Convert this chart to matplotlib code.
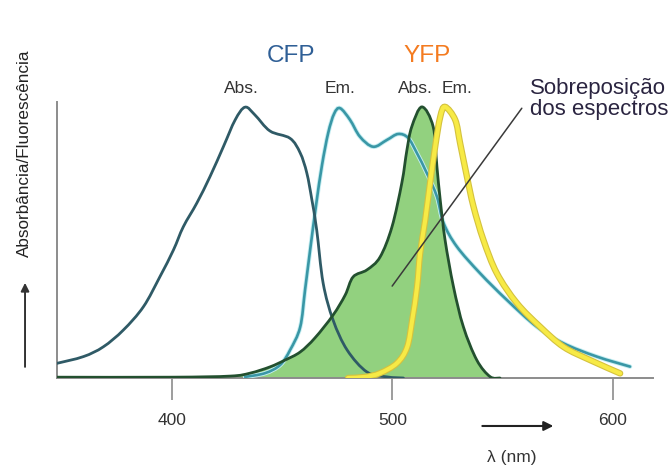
import matplotlib
matplotlib.use("Agg")
import numpy as np
import matplotlib.pyplot as plt
import matplotlib.patheffects as pe
from matplotlib.path import Path
from matplotlib.patches import PathPatch

# spectra, wavelength in nm and normalised intensity
cfp_abs_nm = [347.8, 359.9, 368.9, 378.0, 387.1, 394.6, 400.7, 405.2, 411.3, 417.3, 423.4, 428.7,
              433.2, 437.7, 444.5, 453.6, 458.2, 461.2, 463.5, 465.7, 468.6, 473.1, 479.5, 488.5,
              497.6, 505.0]
cfp_abs_val = [0.054, 0.079, 0.115, 0.177, 0.263, 0.374, 0.472, 0.558, 0.645, 0.743, 0.854, 0.952,
               0.999, 0.970, 0.911, 0.884, 0.830, 0.756, 0.657, 0.545, 0.350, 0.214, 0.103, 0.022,
               0.004, 0.0]

cfp_em_nm = [433.2, 442.3, 449.1, 453.6, 458.2, 460.4, 462.7, 465.4, 468.1, 470.9, 473.6, 476.3,
             480.8, 485.3, 491.3, 497.5, 502.6, 507.1, 511.1, 515.6, 520.2, 523.2, 529.2, 539.8,
             551.9, 565.5, 577.6, 592.7, 607.8]
cfp_em_val = [0.004, 0.018, 0.048, 0.103, 0.188, 0.325, 0.472, 0.638, 0.786, 0.904, 0.975, 0.995,
              0.952, 0.890, 0.853, 0.878, 0.900, 0.886, 0.830, 0.756, 0.669, 0.572, 0.485, 0.386,
              0.288, 0.189, 0.128, 0.079, 0.042]

yfp_abs_nm = [347.8, 400.0, 426.4, 435.5, 444.5, 451.3, 458.2, 464.9, 473.1, 478.6, 482.2, 488.5,
              494.4, 499.8, 504.3, 506.6, 508.8, 513.4, 518.5, 520.2, 521.7, 523.9, 527.7, 532.2,
              538.3, 544.3, 548.8]
yfp_abs_val = [0.003, 0.003, 0.007, 0.018, 0.041, 0.066, 0.096, 0.148, 0.232, 0.306, 0.373, 0.399,
               0.446, 0.557, 0.720, 0.841, 0.927, 1.0, 0.927, 0.780, 0.657, 0.509, 0.337, 0.189,
               0.066, 0.005, 0.0]

yfp_em_nm = [479.9, 487.6, 494.4, 502.1, 506.7, 509.0, 511.2, 512.6, 514.9, 517.1, 519.4, 521.7,
             523.9, 528.5, 530.7, 533.8, 536.8, 541.3, 547.4, 556.5, 567.0, 577.6, 589.7, 603.3]
yfp_em_val = [0.0, 0.004, 0.018, 0.055, 0.114, 0.214, 0.336, 0.461, 0.583, 0.720, 0.853, 0.963,
              1.0, 0.952, 0.867, 0.743, 0.632, 0.509, 0.386, 0.276, 0.189, 0.115, 0.066, 0.017]

xticks = [400, 500, 600]

FONT = "Liberation Sans"


def smooth_path(xs, ys, close=False):
    # Catmull-Rom through the given points, written as cubic Bezier segments
    p = np.column_stack([xs, ys]).astype(float)
    verts = [p[0]]
    codes = [Path.MOVETO]
    n = len(p)
    for i in range(n - 1):
        p0 = p[max(i - 1, 0)]
        p1, p2 = p[i], p[i + 1]
        p3 = p[min(i + 2, n - 1)]
        verts += [p1 + (p2 - p0) / 6.0, p2 - (p3 - p1) / 6.0, p2]
        codes += [Path.CURVE4] * 3
    if close:
        verts += [[p[-1, 0], 0.0], [p[0, 0], 0.0], p[0]]
        codes += [Path.LINETO, Path.LINETO, Path.CLOSEPOLY]
    return Path(verts, codes)


fig = plt.figure(figsize=(6.72, 4.70), dpi=100)
ax = fig.add_axes([57 / 672, 92 / 470, 596 / 672, 276 / 470])
ax.set_xlim(347.9, 618.2)
ax.set_ylim(0, 1.018)

ax.add_patch(PathPatch(smooth_path(yfp_abs_nm, yfp_abs_val, close=True),
                       facecolor="#92d17f", lw=0, zorder=1))

halo = [pe.Stroke(linewidth=3.2, foreground="#c4eef2"), pe.Normal()]
ax.add_patch(PathPatch(smooth_path(cfp_em_nm, cfp_em_val), fill=False, edgecolor="#3a97a6",
                       lw=1.9, capstyle="round", path_effects=halo, zorder=3))
ax.add_patch(PathPatch(smooth_path(cfp_abs_nm, cfp_abs_val), fill=False, edgecolor="#2f5a66",
                       lw=2.0, capstyle="round", zorder=3))
ax.add_patch(PathPatch(smooth_path(yfp_abs_nm, yfp_abs_val), fill=False, edgecolor="#23502f",
                       lw=2.0, capstyle="round", zorder=4))
edge = [pe.Stroke(linewidth=4.6, foreground="#d4c23e"), pe.Normal()]
ax.add_patch(PathPatch(smooth_path(yfp_em_nm, yfp_em_val), fill=False, edgecolor="#f7ea45",
                       lw=3.0, capstyle="round", path_effects=edge, zorder=5))

# pointer from the overlap region to its label
ax.annotate("", xy=(499.9, 0.339), xytext=(558.7, 0.995),
            arrowprops=dict(arrowstyle="-", color="#3a3a3a", lw=1.1, shrinkA=0, shrinkB=0),
            zorder=6)
ax.text(562.5, 1.03, "Sobreposição\ndos espectros", fontsize=16, family=FONT,
        color="#2a2440", ha="left", va="center", linespacing=1.0, clip_on=False)

ax.text(454.1, 1.188, "CFP", fontsize=17.5, family=FONT, color="#2f5f96",
        ha="center", va="center", clip_on=False)
ax.text(515.8, 1.188, "YFP", fontsize=17.5, family=FONT, color="#f47b20",
        ha="center", va="center", clip_on=False)
for xpos, lab in [(431.4, "Abs."), (476.3, "Em."), (510.3, "Abs."), (529.4, "Em.")]:
    ax.text(xpos, 1.066, lab, fontsize=12.5, family=FONT, color="#333333",
            ha="center", va="center", clip_on=False)

for side in ["top", "right"]:
    ax.spines[side].set_visible(False)
for side in ["left", "bottom"]:
    ax.spines[side].set_color("#8c8c8c")
    ax.spines[side].set_linewidth(1.4)

ax.set_yticks([])
ax.set_xticks(xticks)
ax.set_xticklabels([str(t) for t in xticks], family=FONT, fontsize=12.5, color="#333333")
ax.tick_params(axis="x", direction="out", length=16, width=1.2, color="#8c8c8c", pad=9)

# axis arrows and titles
ax.annotate("", xy=(573.0, -0.177), xytext=(540.8, -0.177), annotation_clip=False,
            arrowprops=dict(arrowstyle="-|>", color="#222222", lw=1.5, mutation_scale=14,
                            shrinkA=0, shrinkB=0))
ax.text(554.3, -0.295, "λ (nm)", fontsize=12.5, family=[FONT, "DejaVu Sans"], color="#333333",
        ha="center", va="center", clip_on=False)
ax.annotate("", xy=(333.4, 0.351), xytext=(333.4, 0.041), annotation_clip=False,
            arrowprops=dict(arrowstyle="-|>", color="#333333", lw=1.4, mutation_scale=12,
                            shrinkA=0, shrinkB=0))
ax.text(333.2, 0.83, "Absorbância/Fluorescência", fontsize=12.3, family=FONT, color="#222222",
        rotation=90, ha="center", va="center", clip_on=False)

fig.savefig("out.png", dpi=100)
